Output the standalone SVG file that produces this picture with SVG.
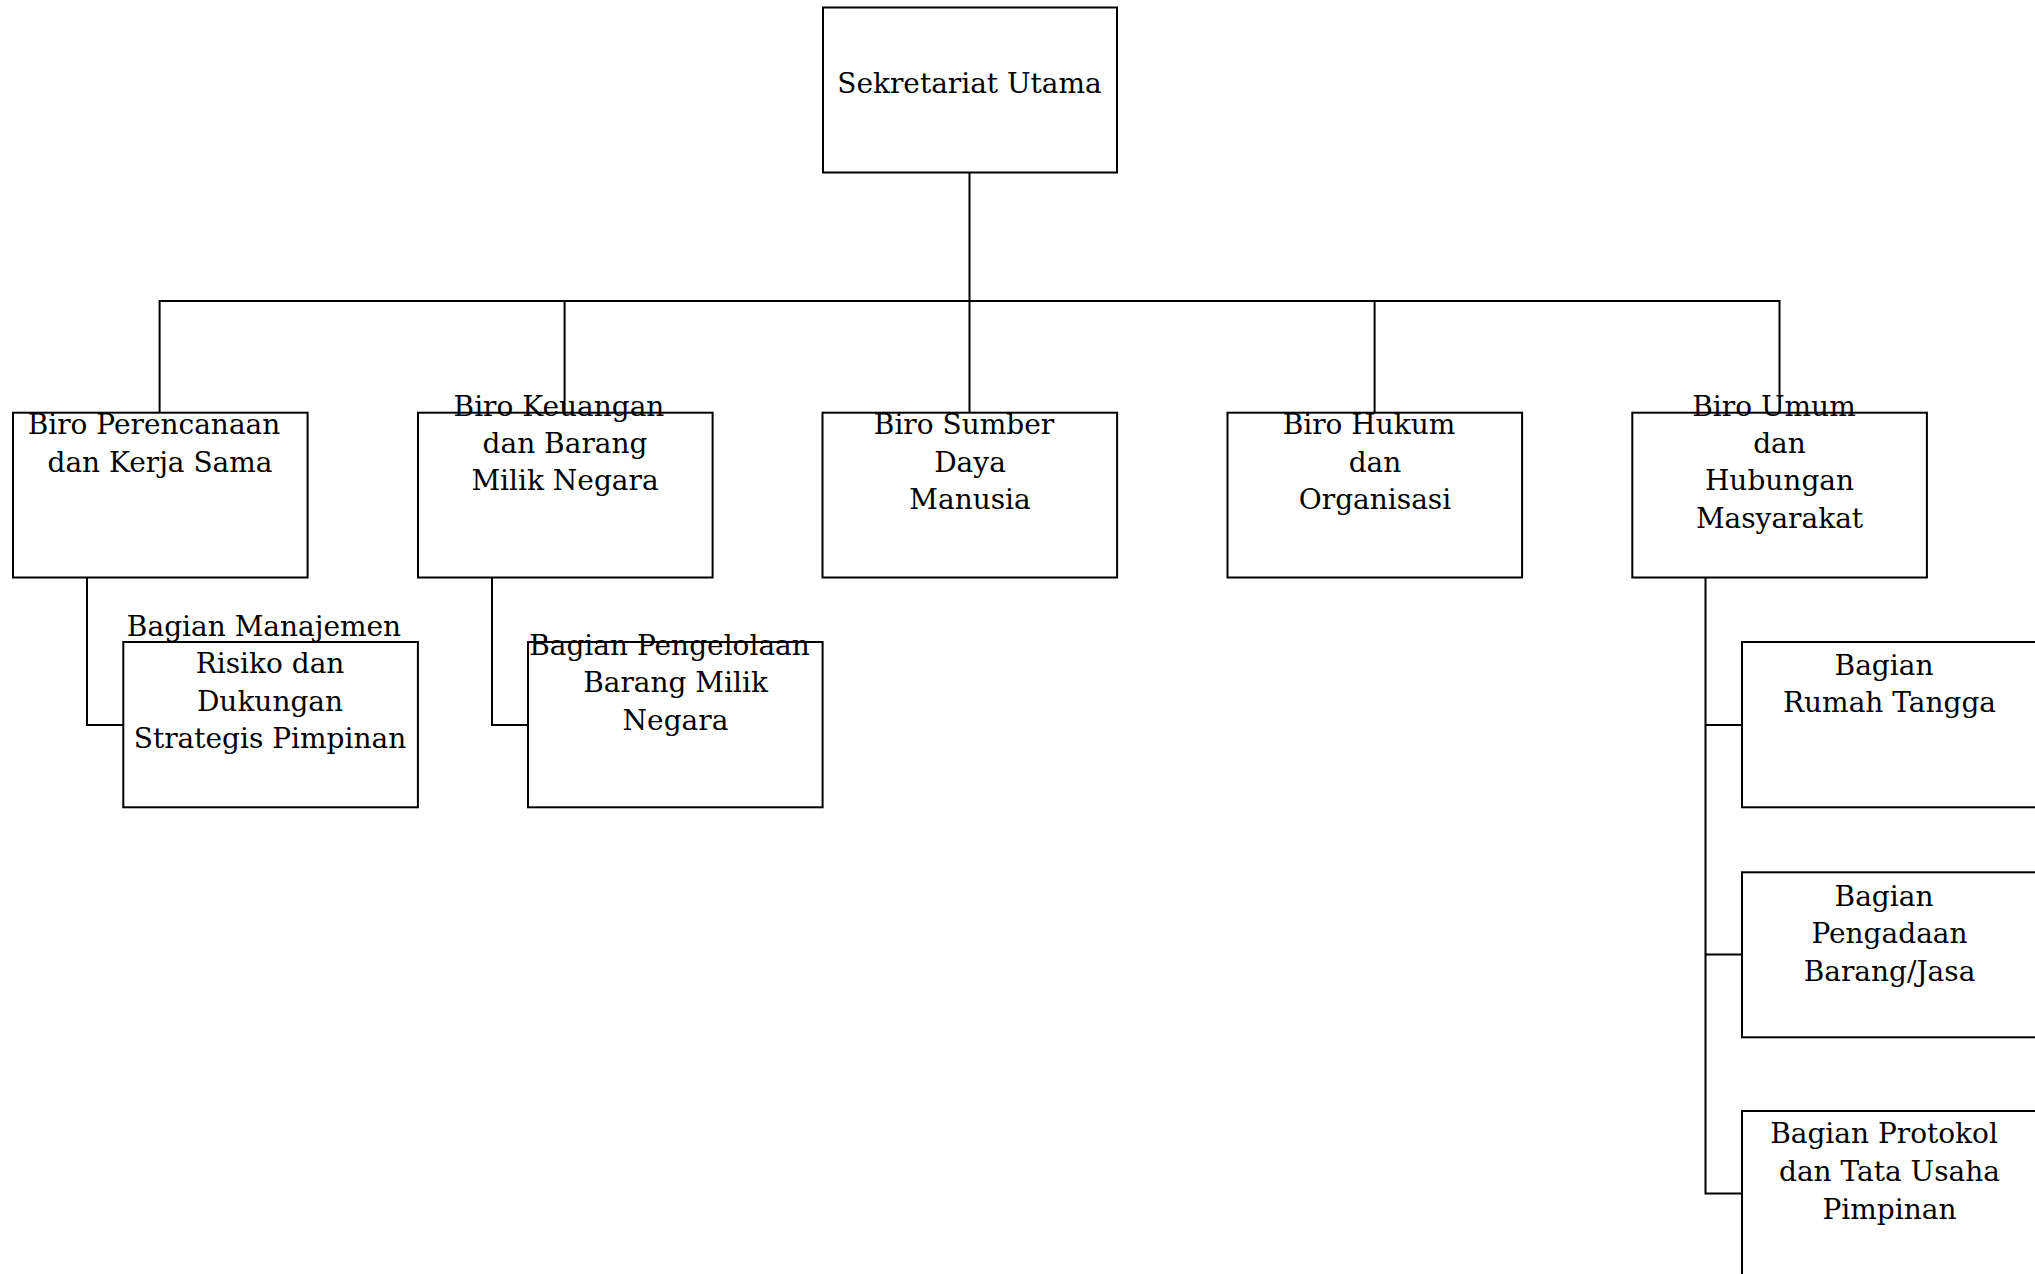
<svg xmlns="http://www.w3.org/2000/svg" width="2035" height="1274" viewBox="0 0 2035 1274">
<style>
.box{fill:#fff;stroke:#000;stroke-width:2}
.ln{fill:none;stroke:#000;stroke-width:2}
text{font-family:"DejaVu Serif","Liberation Serif",serif;font-size:28px;fill:#000;text-anchor:middle}
</style>
<rect width="2035" height="1274" fill="#fff"/>
<g id="connectors">
<path class="ln" d="M969.5 172.6V412.7"/>
<path class="ln" d="M159.6 412.7V301H1779.5V412.7"/>
<path class="ln" d="M564.6 301V412.7"/>
<path class="ln" d="M1374.6 301V412.7"/>
<path class="ln" d="M87 577.5V725H123.3"/>
<path class="ln" d="M492 577.5V725H528"/>
<path class="ln" d="M1705.5 577.5V1193.5H1742"/>
<path class="ln" d="M1705.5 725H1742"/>
<path class="ln" d="M1705.5 954.5H1742"/>
</g>
<g id="sekretariat-utama">
<rect class="box" x="823" y="7.5" width="294" height="165"/>
<text x="969.5" y="92.7">Sekretariat Utama</text>
</g>
<g id="biro-perencanaan">
<rect class="box" x="13" y="412.7" width="294.6" height="164.8"/>
<text x="154" y="434">Biro Perencanaan</text>
<text x="160" y="471.7">dan Kerja Sama</text>
</g>
<g id="biro-keuangan">
<rect class="box" x="418" y="412.7" width="294.6" height="164.8"/>
<text x="559" y="416">Biro Keuangan</text>
<text x="565" y="453">dan Barang</text>
<text x="565" y="490">Milik Negara</text>
</g>
<g id="biro-sdm">
<rect class="box" x="822.5" y="412.7" width="294.6" height="164.8"/>
<text x="964" y="434">Biro Sumber</text>
<text x="970" y="471.5">Daya</text>
<text x="970" y="509">Manusia</text>
</g>
<g id="biro-hukum">
<rect class="box" x="1227.5" y="412.7" width="294.6" height="164.8"/>
<text x="1369" y="434">Biro Hukum</text>
<text x="1375" y="471.5">dan</text>
<text x="1375" y="509">Organisasi</text>
</g>
<g id="biro-umum">
<rect class="box" x="1632.3" y="412.7" width="294.6" height="164.8"/>
<text x="1774" y="416">Biro Umum</text>
<text x="1779.5" y="453">dan</text>
<text x="1779.5" y="490">Hubungan</text>
<text x="1779.5" y="527.7">Masyarakat</text>
</g>
<g id="bagian-manajemen-risiko">
<rect class="box" x="123.3" y="642" width="294.6" height="165.3"/>
<text x="264" y="636">Bagian Manajemen</text>
<text x="270" y="673">Risiko dan</text>
<text x="270" y="710.5">Dukungan</text>
<text x="270" y="748">Strategis Pimpinan</text>
</g>
<g id="bagian-pengelolaan-bmn">
<rect class="box" x="528" y="642" width="294.6" height="165.3"/>
<text x="669.5" y="654.5">Bagian Pengelolaan</text>
<text x="675.5" y="692">Barang Milik</text>
<text x="675.5" y="730">Negara</text>
</g>
<g id="bagian-rumah-tangga">
<rect class="box" x="1742" y="642" width="296" height="165.3"/>
<text x="1884" y="674.5">Bagian</text>
<text x="1889.5" y="712">Rumah Tangga</text>
</g>
<g id="bagian-pengadaan">
<rect class="box" x="1742" y="872.3" width="296" height="165"/>
<text x="1884" y="905.5">Bagian</text>
<text x="1889.5" y="943">Pengadaan</text>
<text x="1889.5" y="981">Barang/Jasa</text>
</g>
<g id="bagian-protokol">
<rect class="box" x="1742" y="1111" width="296" height="200"/>
<text x="1884" y="1143">Bagian Protokol</text>
<text x="1889.5" y="1181">dan Tata Usaha</text>
<text x="1889.5" y="1218.5">Pimpinan</text>
</g>
</svg>
